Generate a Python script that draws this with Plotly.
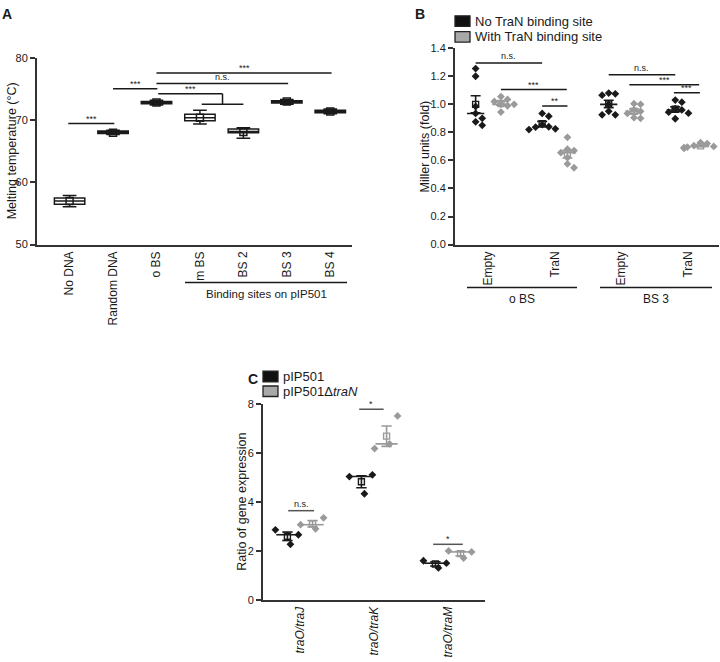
import numpy as np
import plotly.graph_objects as go

W, H = 720, 662
FONT = "Liberation Sans, Arial, sans-serif"
INK = "#1a1a1a"
GRAY = "#9a9a9a"

# ---------------- Panel A data (melting temperature, °C) ----------------
a_categories = ["No DNA", "Random DNA", "o BS", "m BS", "BS 2", "BS 3", "BS 4"]
a_lower = [56.1, 67.7, 72.45, 69.4, 67.1, 72.55, 71.05]
a_q1 = [56.5, 67.85, 72.65, 69.9, 68.0, 72.75, 71.2]
a_median = [57.0, 68.0, 72.8, 70.4, 68.2, 72.95, 71.4]
a_q3 = [57.5, 68.25, 73.0, 70.95, 68.6, 73.15, 71.6]
a_upper = [57.9, 68.4, 73.2, 71.6, 68.8, 73.35, 71.8]
a_mean = [57.0, 68.0, 72.85, 70.4, 68.1, 73.0, 71.4]
a_group_label = "Binding sites on pIP501"

# ---------------- Panel B data (Miller units, fold) ----------------
b_categories = ["Empty", "TraN", "Empty", "TraN"]
b_sections = ["o BS", "BS 3"]
b_series = ["No TraN binding site", "With TraN binding site"]
b_no_site = [
    [1.255, 1.20, 0.985, 0.935, 0.90, 0.875, 0.85],
    [0.935, 0.915, 0.855, 0.84, 0.837, 0.825, 0.82],
    [1.08, 1.075, 1.065, 1.0, 0.95, 0.925, 0.925],
    [1.03, 1.015, 0.97, 0.96, 0.944, 0.937, 0.897],
]
b_with_site = [
    [1.055, 1.035, 1.02, 1.0, 1.0, 0.99, 0.945],
    [0.765, 0.68, 0.67, 0.655, 0.62, 0.575, 0.548],
    [1.005, 1.0, 0.96, 0.95, 0.935, 0.905, 0.90],
    [0.727, 0.72, 0.705, 0.70, 0.695, 0.692, 0.687],
]

# ---------------- Panel C data (ratio of gene expression) ----------------
c_categories = ["traO/traJ", "traO/traK", "traO/traM"]
c_series = ["pIP501", "pIP501ΔtraN"]
c_pip501 = [[2.86, 2.66, 2.27], [5.03, 5.10, 4.33], [1.60, 1.50, 1.31]]
c_delta = [[3.07, 3.35, 2.90], [6.17, 7.50, 6.36], [2.00, 1.96, 1.71]]

# significance labels
a_sig = ["***", "***", "n.s.", "***", "***"]
b_sig = ["n.s.", "***", "**", "n.s.", "***", "***"]
c_sig = ["n.s.", "*", "*"]


def px(x):
    return x / W


def py(y):
    return 1 - y / H


fig = go.Figure()

# ---------------- axes geometry ----------------
axA = dict(x0=37, x1=352, y0=53, y1=243, xr=[-0.75, 6.5], yr=[50, 80])
axB = dict(x0=455, x1=718.5, y0=43, y1=243, xr=[-0.5, 3.46], yr=[0, 1.4])
axC = dict(x0=263, x1=485, y0=405, y1=605, xr=[-0.5, 2.5], yr=[0, 8])

common_y = dict(showline=True, linecolor="#333", linewidth=2, ticks="outside",
                ticklen=5, tickwidth=1.5, tickcolor="#333", showgrid=False,
                zeroline=False, tickfont=dict(family=FONT, size=11, color=INK))
common_x = dict(showline=True, linecolor="#333", linewidth=2, ticks="", ticklen=0,
                showgrid=False, zeroline=False, tickangle=-90,
                tickfont=dict(family=FONT, size=12, color=INK))

layout_axes = {}
for i, (ax, xt, yt) in enumerate([
        (axA, dict(tickvals=list(range(7)), ticktext=a_categories), dict(dtick=10, tick0=50)),
        (axB, dict(tickvals=list(range(4)), ticktext=b_categories), dict(dtick=0.2, tick0=0, tickformat=".1f")),
        (axC, dict(tickvals=list(range(3)), ticktext=["<i>%s</i>" % c for c in c_categories]), dict(dtick=2, tick0=0)),
]):
    s = "" if i == 0 else str(i + 1)
    layout_axes["xaxis" + s] = dict(common_x, domain=[px(ax["x0"]), px(ax["x1"])], range=ax["xr"],
                                    anchor="y" + s, **xt)
    layout_axes["yaxis" + s] = dict(common_y, domain=[py(ax["y1"]), py(ax["y0"])], range=ax["yr"],
                                    anchor="x" + s, **yt)

# ---------------- Panel A: boxes ----------------
xa = list(range(len(a_categories)))
fig.add_trace(go.Box(x=xa, q1=a_q1, median=a_median, q3=a_q3, lowerfence=a_lower,
                     upperfence=a_upper, width=0.7, whiskerwidth=0.45,
                     fillcolor="white", line=dict(color=INK, width=1.5),
                     boxpoints=False, showlegend=False, hoverinfo="skip",
                     xaxis="x", yaxis="y"))
fig.add_trace(go.Scatter(x=xa, y=a_mean, mode="markers", showlegend=False,
                         marker=dict(symbol="square-open", size=7, color=INK,
                                     line=dict(width=1.5, color=INK)),
                         xaxis="x", yaxis="y", cliponaxis=False))


def beeswarm(values, xppu, yppu, diam=6.0):
    order = np.argsort(values)[::-1]
    placed = []
    offs = np.zeros(len(values))
    for idx in order:
        v = values[idx]
        for k in [0, 1, -1, 2, -2, 3, -3, 4, -4, 5, -5]:
            dx = k * diam * 0.55
            ok = True
            for (pxp, pyp) in placed:
                if (dx - pxp) ** 2 + ((v - pyp) * yppu) ** 2 < diam ** 2:
                    ok = False
                    break
            if ok:
                break
        placed.append((dx, v))
        offs[idx] = dx / xppu
    return offs


def summary_traces(xc, vals, color, xaxis, yaxis, med_half, cap_half):
    v = np.array(vals)
    m = v.mean()
    sem = v.std(ddof=1) / np.sqrt(len(v))
    med = np.median(v)
    lx = [xc - med_half, xc + med_half, None,
          xc, xc, None,
          xc - cap_half, xc + cap_half, None,
          xc - cap_half, xc + cap_half]
    ly = [med, med, None,
          m - sem, m + sem, None,
          m - sem, m - sem, None,
          m + sem, m + sem]
    return [
        go.Scatter(x=lx, y=ly, mode="lines", line=dict(color=color, width=1.6),
                   showlegend=False, hoverinfo="skip", xaxis=xaxis, yaxis=yaxis),
        go.Scatter(x=[xc], y=[m], mode="markers", showlegend=False, hoverinfo="skip",
                   marker=dict(symbol="square-open", size=6, color=color,
                               line=dict(width=1.4, color=color)),
                   xaxis=xaxis, yaxis=yaxis),
    ]


# ---------------- Panel B: dot plots ----------------
xppuB = (axB["x1"] - axB["x0"]) / (axB["xr"][1] - axB["xr"][0])
yppuB = (axB["y1"] - axB["y0"]) / (axB["yr"][1] - axB["yr"][0])
offB = 0.19
for series, color, sgn in [(b_no_site, INK, -1), (b_with_site, GRAY, 1)]:
    for gi, vals in enumerate(series):
        xc = gi + sgn * offB
        jit = beeswarm(np.array(vals), xppuB, yppuB, diam=6.0)
        fig.add_trace(go.Scatter(x=list(xc + jit), y=vals, mode="markers",
                                 marker=dict(symbol="diamond", size=6, color=color),
                                 showlegend=False, xaxis="x2", yaxis="y2", cliponaxis=False))
        for t in summary_traces(xc, vals, color, "x2", "y2", 0.13, 0.075):
            fig.add_trace(t)

# ---------------- Panel C: dot plots ----------------
xppuC = (axC["x1"] - axC["x0"]) / (axC["xr"][1] - axC["xr"][0])
offC = 0.17
spreadC = np.array([-12.0, 11.0, 3.0]) / xppuC
for series, color, sgn in [(c_pip501, INK, -1), (c_delta, GRAY, 1)]:
    for gi, vals in enumerate(series):
        xc = gi + sgn * offC
        fig.add_trace(go.Scatter(x=list(xc + spreadC), y=vals, mode="markers",
                                 marker=dict(symbol="diamond", size=6, color=color),
                                 showlegend=False, xaxis="x3", yaxis="y3", cliponaxis=False))
        for t in summary_traces(xc, vals, color, "x3", "y3", 0.15, 0.07):
            fig.add_trace(t)

shapes = []
annotations = []


def sig(xref, yref, x0, x1, y, text, color=INK, size=9):
    shapes.append(dict(type="line", xref=xref, yref=yref, x0=x0, x1=x1, y0=y, y1=y,
                       line=dict(color=color, width=1.5)))
    shift = -2 if "*" in text else 0
    annotations.append(dict(xref=xref, yref=yref, x=(x0 + x1) / 2, y=y, text=text,
                            showarrow=False, yanchor="bottom", yshift=shift,
                            font=dict(family=FONT, size=size, color=INK)))


# Panel A significance
sig("x", "y", -0.03, 1.03, 69.47, a_sig[0])
sig("x", "y", 1.0, 2.02, 75.05, a_sig[1])
sig("x", "y", 2.0, 5.03, 75.9, a_sig[2])
sig("x", "y", 2.0, 6.03, 77.6, a_sig[3])
sig("x", "y", 2.04, 3.52, 74.26, a_sig[4])
shapes.append(dict(type="line", xref="x", yref="y", x0=3.52, x1=3.52, y0=74.26, y1=72.55,
                   line=dict(color=INK, width=1.5)))
shapes.append(dict(type="line", xref="x", yref="y", x0=3.04, x1=4.0, y0=72.55, y1=72.55,
                   line=dict(color=INK, width=1.5)))

# Panel B significance
for (x0, x1, y), t in zip([(-0.19, 0.81, 1.294), (0.19, 1.18, 1.105), (0.81, 1.19, 0.988),
                           (1.81, 2.81, 1.21), (2.12, 3.17, 1.14), (2.79, 3.18, 1.082)], b_sig):
    sig("x2", "y2", x0, x1, y, t)

# Panel C significance
for (x0, x1, y), t in zip([(-0.16, 0.19, 3.64), (0.80, 1.13, 7.77), (1.80, 2.20, 2.27)], c_sig):
    sig("x3", "y3", x0, x1, y, t, color="#555")


# group brackets under category labels
def under(x0, x1, yline, text, ytext, size):
    shapes.append(dict(type="line", xref="paper", yref="paper", x0=px(x0), x1=px(x1),
                       y0=py(yline), y1=py(yline), line=dict(color=INK, width=1.5)))
    annotations.append(dict(xref="paper", yref="paper", x=px((x0 + x1) / 2), y=py(ytext),
                            text=text, showarrow=False, xanchor="center", yanchor="middle",
                            font=dict(family=FONT, size=size, color=INK)))


under(185, 347, 281.7, a_group_label, 293.5, 11.5)
under(467, 577, 286.7, b_sections[0], 298.5, 12)
under(600, 712, 286.7, b_sections[1], 298.5, 12)


# legends (drawn)
def legend_item(x0, y0, fill, text):
    shapes.append(dict(type="rect", xref="paper", yref="paper", x0=px(x0), x1=px(x0 + 15),
                       y0=py(y0 + 10.7), y1=py(y0), fillcolor=fill,
                       line=dict(color="#222", width=1.3)))
    annotations.append(dict(xref="paper", yref="paper", x=px(x0 + 18), y=py(y0 + 5.3),
                            text=text, showarrow=False, xanchor="left", yanchor="middle",
                            font=dict(family=FONT, size=13, color=INK)))


legend_item(455, 10, "#111111", b_series[0])
legend_item(455, 26, "#a8a8a8", b_series[1])
legend_item(263, 372, "#111111", c_series[0])
legend_item(263, 387, "#a8a8a8", "pIP501Δ<i>traN</i>")

# panel letters
for t, x, y in [("A", 7, 8.5), ("B", 420, 8.5), ("C", 253, 380)]:
    annotations.append(dict(xref="paper", yref="paper", x=px(x), y=py(y), text="<b>%s</b>" % t,
                            showarrow=False, xanchor="center", yanchor="middle",
                            font=dict(family=FONT, size=14, color=INK)))

# y axis titles
for t, x, y in [("Melting temperature (°C)", 12, 148), ("Miller units (fold)", 425, 143),
                ("Ratio of gene expression", 242, 505)]:
    annotations.append(dict(xref="paper", yref="paper", x=px(x), y=py(y), text=t,
                            textangle=-90, showarrow=False, xanchor="center", yanchor="middle",
                            font=dict(family=FONT, size=12.5, color=INK)))

fig.update_layout(width=W, height=H, margin=dict(l=0, r=0, t=0, b=0),
                  paper_bgcolor="white", plot_bgcolor="white", showlegend=False,
                  font=dict(family=FONT, color=INK), shapes=shapes, annotations=annotations,
                  **layout_axes)

fig.write_html("out.html", config={"displayModeBar": False},
               post_script="document.body.style.margin='0';document.body.style.padding='0';")
